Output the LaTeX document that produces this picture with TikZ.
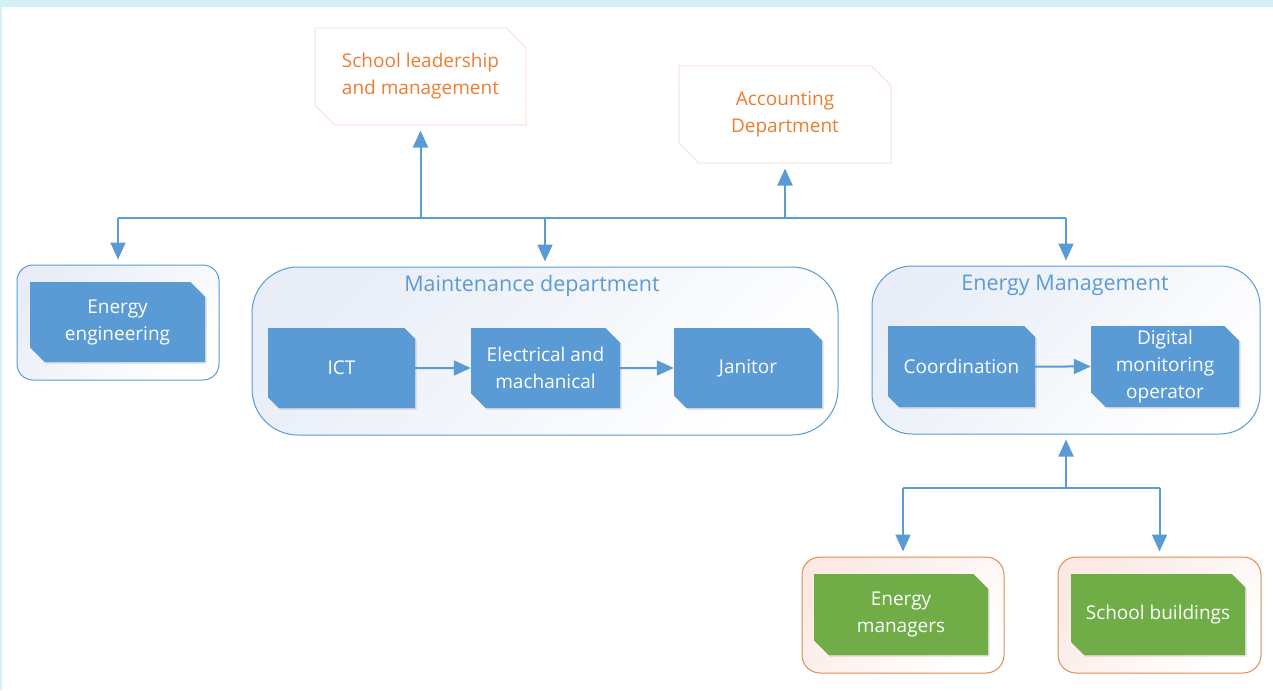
\documentclass[tikz,border=0pt]{standalone}
\usepackage{fontspec}
\setmainfont{Open Sans}
\usetikzlibrary{shapes.misc,arrows.meta,shadows}
\definecolor{boxblue}{HTML}{5B9BD5}
\definecolor{boxgreen}{HTML}{70AD47}
\definecolor{txtorange}{HTML}{ED7D31}
\definecolor{lineorange}{HTML}{E08A55}
\definecolor{palepink}{HTML}{FBE3D8}
\definecolor{paleblue}{HTML}{E8EDF7}
\definecolor{palerose}{HTML}{FBE9E4}
\definecolor{edgecyan}{HTML}{D4F0F6}
\tikzset{
	snipbox/.style={chamfered rectangle, chamfered rectangle corners={north east,south west}, chamfered rectangle xsep=11pt, inner sep=0pt, align=center, font=\fontsize{19}{27}\selectfont},
	unitbox/.style={snipbox, fill=boxblue, text=white, draw=none, drop shadow={shadow xshift=1.5pt, shadow yshift=-1.5pt, opacity=0.25}},
	sitebox/.style={unitbox, fill=boxgreen},
	topbox/.style={snipbox, chamfered rectangle xsep=16pt, draw=palepink, line width=1pt, fill=white, text=txtorange},
	groupbox/.style={rectangle, draw=boxblue, line width=1pt, top color=paleblue, bottom color=white, shading angle=45, inner sep=0pt},
	sitegroup/.style={groupbox, draw=lineorange, top color=palerose, bottom color=white, shading angle=45},
	grouptitle/.style={text=boxblue, font=\fontsize{21.5}{24}\selectfont},
	link/.style={draw=boxblue, line width=2pt},
	arr/.style={link, -{Triangle[width=15pt,length=17pt]}, shorten >=5pt}
}

\begin{document}
\begin{tikzpicture}[x=1pt, y=-1pt]
			%%%%% START %%%%%
			
			\useasboundingbox (0,0) rectangle (1273,690);
			\fill[edgecyan] (0,0) rectangle (1273,7);
			\fill[edgecyan] (0,0) rectangle (2,690);
			
			% top boxes
			\node[topbox, minimum width=211pt, minimum height=97pt] (lead) at (420.5,76.5) {School leadership\\and management};
			\node[topbox, minimum width=212pt, minimum height=97pt] (acct) at (785,114.5) {Accounting\\Department};
			
			% group frames
			\node[groupbox, rounded corners=16pt, minimum width=202pt, minimum height=115pt] (engout) at (118,322.5) {};
			\node[groupbox, rounded corners=46pt, minimum width=586pt, minimum height=168pt] (maintout) at (545,351) {};
			\node[groupbox, rounded corners=40pt, minimum width=388pt, minimum height=168pt] (emout) at (1066,350) {};
			\node[sitegroup, rounded corners=18pt, minimum width=202pt, minimum height=116pt] (mgrout) at (903,615) {};
			\node[sitegroup, rounded corners=18pt, minimum width=203pt, minimum height=116pt] (bldout) at (1159.5,615) {};
			
			\node[grouptitle] (mainttitle) at (532,286) {Maintenance department};
			\node[grouptitle] (emtitle) at (1065,285) {Energy Management};
			
			% units
			\node[unitbox, minimum width=175pt, minimum height=80pt] (eng) at (117.5,322) {Energy\\engineering};
			\node[unitbox, minimum width=147pt, minimum height=80pt] (ict) at (341.5,368) {ICT};
			\node[unitbox, minimum width=149pt, minimum height=80pt] (elec) at (545.5,368) {Electrical and\\machanical};
			\node[unitbox, minimum width=148pt, minimum height=80pt] (jan) at (748,368) {Janitor};
			\node[unitbox, minimum width=147pt, minimum height=81pt] (coord) at (961.5,366.5) {Coordination};
			\node[unitbox, minimum width=148pt, minimum height=81pt] (digi) at (1165,366.5) {Digital\\monitoring\\operator};
			\node[sitebox, minimum width=174pt, minimum height=81pt] (mgr) at (901,614.5) {Energy\\managers};
			\node[sitebox, minimum width=174pt, minimum height=81pt] (bld) at (1158,614.5) {School buildings};
			
			% connectors
			\coordinate (bus) at (545,218);
			\coordinate (hub) at (1066,488);
			
			\draw[link] (engout.north |- bus) -- (emout.north |- bus);
			\draw[arr] (lead.south |- bus) -- (lead.south);
			\draw[arr] (acct.south |- bus) -- (acct.south);
			\draw[arr] (engout.north |- bus) -- (engout.north);
			\draw[arr] (maintout.north |- bus) -- (maintout.north);
			\draw[arr] (emout.north |- bus) -- (emout.north);
			
			\draw[arr, shorten >=0pt] (ict) -- (elec);
			\draw[arr, shorten >=0pt] (elec) -- (jan);
			\draw[arr, shorten >=0pt] (coord) -- (digi);
			
			\draw[link] (mgrout.north |- hub) -- (bldout.north |- hub);
			\draw[arr] (hub) -- (emout.south);
			\draw[arr] (mgrout.north |- hub) -- (mgrout.north);
			\draw[arr] (bldout.north |- hub) -- (bldout.north);
			
			%%%%% END %%%%%
\end{tikzpicture}
\end{document}
